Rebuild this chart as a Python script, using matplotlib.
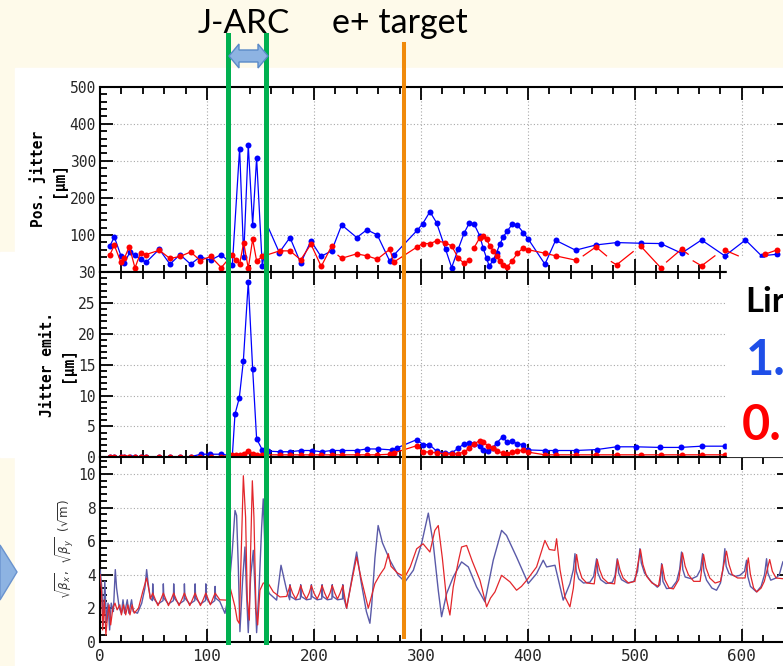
import numpy as np
import matplotlib.pyplot as plt
import matplotlib.transforms as mtransforms
from matplotlib.lines import Line2D
from matplotlib.patches import Polygon, Rectangle
from matplotlib.ticker import FixedLocator, MultipleLocator

W, H = 783, 666
CREAM = "#FEFAEA"
MONO = "DejaVu Sans Mono"

# --- position jitter [um] ---
blue1_x = [9.3, 13.4, 19.6, 22.7, 28.0, 32.7, 38.0, 43.0, 55.4, 65.4, 74.8, 84.7, 93.7,
           103.4, 113.4, 123.7, 130.5, 134.3, 138.6, 142.7, 146.4, 151.7, 157.3, 167.6,
           177.6, 187.6, 197.2, 206.5, 216.5, 225.9, 240.0, 249.5, 259.2, 271.0, 274.8,
           296.5, 301.6, 308.4, 314.6, 323.0, 328.7, 335.0, 340.5, 345.2, 349.8, 355.1,
           358.2, 361.4, 363.8, 367.6, 370.7, 373.8, 376.9, 380.7, 385.3, 390.0, 395.8,
           400.3, 415.9, 425.9, 444.6, 463.6, 482.9, 505.3, 524.0, 543.6, 562.3, 584.1,
           603.4, 618.4, 633.0]
blue1_y = [70.6, 94.5, 43.6, 24, 54, 45, 34.6, 25.8, 61.5, 21, 47, 21, 41,
           32, 47, 18.5, 333, 41.8, 343, 126.7, 307.6, 15, 120, 52.6,
           93, 24, 84, 42, 57, 127, 93, 114, 100, 28.5, 46,
           112.5, 130, 162.7, 133, 61.5, 12, 63, 106, 132, 128.6, 97,
           64, 37, 16, 32, 52.5, 75, 94.5, 110.7, 128.6, 127, 106,
           89, 21, 85.6, 58.8, 73, 79.4, 77.6, 76.8, 50.7, 86.4, 43.5,
           86.4, 43.5, 48]
blue1_dot = [1] * 22 + [0] + [1] * 48

red1_x = [9.3, 13.4, 19.6, 22.7, 27.4, 32.7, 38.0, 43.0, 55.4, 65.4, 74.8, 84.7, 93.7,
          103.4, 113.4, 123.7, 126.8, 130.5, 134.3, 138.6, 142.7, 146.4, 151.7, 167.9,
          177.6, 187.6, 197.2, 206.8, 216.5, np.nan, 222.5, 225.9, 240.0, 249.4, 259.2,
          271.0, 274.5, 296.5, 301.6, 308.4, 314.6, 322.4, 328.7, 335.0, 340.5, 345.2,
          np.nan, 349.8, 355.1, 358.2, 361.4, 364.5, 367.6, 370.7, 373.8, 376.9, 380.7,
          385.3, 390.0, 395.6, 400.3, 415.9, 425.9, 444.6, np.nan, 451.7, 463.6, 473.5,
          np.nan, 478.0, 482.9, 498.4, np.nan, 505.3, 524.0, np.nan, 529.6, 543.6, 549.8,
          np.nan, 554.5, 562.3, 574.8, np.nan, 584.1, 596.6, np.nan, 621.5, 633.0]
red1_y = [47, 72, 25.8, 36.5, 68.7, 11, 52.5, 47, 58.8, 36.5, 42, 54, 31,
          42, 12, 47, 33, 21, 79.5, 10, 88.3, 30, 42, 57,
          57, 33, 75, 15, 70, np.nan, 45, 37, 49, 43.6, 34.6,
          61.5, 26.5, 67.7, 76.8, 76.8, 83.8, 79.5, 70.3, 37.3, 23, 32,
          np.nan, 66, 93, 97, 88, 70.3, 57, 43.6, 30, 19.3, 14,
          30, 50, 65, 60, 50.7, 43.6, 32, np.nan, 43.6, 67.7, 43.6,
          np.nan, 28, 19.3, 55, np.nan, 70.3, 12, np.nan, 27, 61.5, 48,
          np.nan, 30, 16.6, 43.6, np.nan, 59, 43.6, np.nan, 48, 59.6]
red1_dot = [1] * 29 + [0, 0] + [1] * 15 + [0] + [1] * 17 + [0, 0, 1, 0, 0, 0, 1, 0, 0,
            1, 1, 0, 0, 1, 0, 0, 0, 1, 0, 0, 1, 0, 0, 1, 1]

# --- jitter emittance [um] ---
blue2_x = [9.3, 13.4, 19.6, 22.7, 28.0, 32.7, 38.0, 43.0, 55.4, 65.4, 74.8, 84.7, 94.4,
           102.8, 113.0, 123.7, 126.2, 130.2, 134.0, 138.6, 142.7, 146.4, 151.7, 157.3,
           168.2, 177.6, 188.0, 197.8, 207.2, 216.5, 225.9, 240.0, 249.2, 260.0, 272.6,
           277.3, 296.0, 302.2, 308.0, 314.6, 322.4, 328.7, 335.0, 340.5, 345.2, 349.8,
           355.1, 358.2, 362.9, 367.0, 370.7, 376.3, 380.7, 385.3, 390.0, 395.0, 399.7,
           415.9, 425.2, 444.6, 464.2, 482.9, 500.6, 523.4, 542.7, 562.3, 584.1]
blue2_y = [0.1, 0.1, 0.1, 0.1, 0.1, 0.1, 0.1, 0.1, 0.1, 0.1, 0.1, 0.1, 0.5,
           0.5, 0.5, 0.25, 7.0, 9.6, 15.6, 28.4, 14.3, 3.0, 1.2, 1.0,
           0.9, 0.9, 1.1, 1.1, 0.9, 1.1, 1.1, 1.1, 1.35, 1.35, 1.2,
           1.5, 2.85, 2.05, 2.05, 1.0, 0.7, 0.7, 1.5, 2.2, 2.3, 2.2,
           1.8, 1.2, 1.0, 1.5, 2.3, 3.3, 2.4, 2.6, 2.2, 2.05, 1.2,
           1.1, 1.1, 1.1, 1.25, 1.7, 1.7, 1.6, 1.6, 1.8, 1.8]

red2_x = [9.3, 13.4, 19.6, 22.7, 27.4, 32.7, 38.0, 43.0, 55.4, 65.4, 74.8, 84.7, 93.7,
          103.4, 113.4, 123.7, 126.8, 130.5, 134.3, 138.6, 142.7, 146.4, 151.7, 167.9,
          177.6, 187.6, 197.2, 206.8, 216.5, 225.9, 240.0, 249.4, 259.2, 271.0, 274.5,
          296.5, 301.6, 308.4, 314.6, 322.4, 328.7, 335.0, 340.5, 345.2, 349.8, 355.1,
          358.2, 362.9, 367.0, 370.7, 376.3, 380.7, 385.3, 390.0, 395.0, 399.7, 415.9,
          425.9, 444.6, 463.6, 482.9, 505.3, 524.0, 543.6, 562.3, 584.1]
red2_y = [0.1, 0.1, 0.1, 0.1, 0.1, 0.1, 0.1, 0.1, 0.1, 0.1, 0.1, 0.1, 0.1,
          0.1, 0.1, 0.4, 0.4, 0.4, 0.6, 1.1, 0.6, 0.4, 0.4, 0.4,
          0.4, 0.4, 0.4, 0.4, 0.4, 0.4, 0.4, 0.4, 0.4, 0.5, 0.7,
          1.9, 0.9, 0.85, 0.7, 0.6, 0.5, 0.6, 0.85, 1.5, 2.2, 2.7,
          2.5, 1.8, 1.5, 1.0, 0.7, 0.55, 0.85, 1.0, 1.2, 0.85, 0.4,
          0.4, 0.4, 0.4, 0.4, 0.4, 0.4, 0.4, 0.4, 0.4]

# --- sqrt(beta) [sqrt(m)] ---
betax_s = [0, 1.5, 3, 4.5, 6, 7.5, 9, 10.5, 12.5, 14.3, 15.5, 18, 20, 21.5, 23, 25.5, 27,
           29.5, 31, 35, 39, 42, 43.6, 45, 47,
           49.0, 49.3, 49.8, 54.2, 58.9, 59.2, 59.7, 64.0, 68.6, 68.9, 69.4, 73.9,
           78.6, 78.9, 79.4, 83.9, 88.6, 88.9, 89.4, 93.9, 98.6, 98.9, 99.4, 103.2,
           107.3, 107.6, 108.1, 112, 116.8,
           119.9, 123.7, 126.2, 127.7, 129.3, 130.8, 133.3, 135.5, 137.0, 138.6, 140.8,
           143.3, 144.9, 146.4, 148.9, 151.1, 152.6, 154.2, 155.8, 158.3, 165.1, 169.2,
           174.5, 177.3,
           177.6, 178.1, 183, 187.3, 187.6, 188.1, 193, 197.3, 197.6, 198.1, 203, 207.3,
           207.6, 208.1, 212.5, 216.8, 217.1, 217.6, 222, 226.7, 227, 227.5, 230.5,
           235, 239.9, 244, 249, 252.3, 254, 257, 260, 264, 271, 278.8, 285.1, 292.9,
           300.6, 306.9, 311.5, 316.2, 319.3, 324, 330.2, 338, 344.3, 352, 359.8, 367.6,
           375.4, 380, 389.4, 400.3, 408.1, 414.3, 417.5, 425.3, 433,
           439.3, 442.5, 444, 445.2, 447.5, 452, 458, 461.5, 464.2, 465.4, 468, 473, 479,
           481.5, 483.5, 484.8, 487.5, 493, 499, 502.5, 504.7, 506, 509, 515, 521, 523.4,
           525, 526.2, 529.6, 534.3, 539, 541.8, 543.6, 544.8, 547, 553, 558, 561.3,
           563.3, 564.5, 567, 572, 576.3, 580, 582.3, 584.1, 585.3, 588, 594, 598.1,
           602.5, 604.4, 605.5, 608, 613.7, 618, 621.2, 623.1, 624.3, 627, 632, 635,
           638.3, 645]
betax = [4.3, 3.4, 1.0, 3.6, 1.2, 2.3, 0.7, 2.3, 1.8, 4.3, 3.2, 2.0, 1.7, 2.5, 1.7, 2.5, 1.7,
         2.5, 1.8, 1.7, 2.3, 3.2, 4.3, 3.5, 2.6,
         2.45, 3.45, 2.6, 2.25, 2.45, 3.45, 2.6, 2.25, 2.45, 3.45, 2.6, 2.25,
         2.45, 3.45, 2.6, 2.25, 2.45, 3.45, 2.6, 2.25, 2.45, 3.45, 2.6, 2.25,
         2.45, 3.3, 2.6, 2.4, 1.69,
         2.68, 5.45, 7.83, 7.53, 4.46, 0.6, 3.67, 5.65, 2.87, 0.54, 3.86,
         5.45, 3.07, 0.54, 3.47, 6.84, 8.52, 5.45, 3.27, 2.87, 2.48, 4.56,
         3.07, 2.5,
         3.4, 2.7, 2.5, 2.55, 3.4, 2.7, 2.5, 2.55, 3.4, 2.7, 2.5, 2.55,
         3.4, 2.7, 2.5, 2.55, 3.4, 2.7, 2.5, 2.55, 3.4, 2.7, 2.0,
         3.6, 5.35, 3.6, 1.8, 1.1, 2.2, 5.0, 6.93, 5.9, 4.86, 3.96, 3.57, 4.26,
         5.85, 7.67, 5.85, 3.07, 1.49, 2.87, 3.86, 4.76, 4.46, 3.27, 2.38, 4.86,
         6.64, 6.34, 5.05, 3.47, 4.06, 4.86, 4.46, 4.56, 2.48,
         3.47, 4.3, 5.25, 4.2, 3.75, 3.5, 3.55, 3.9, 4.95, 4.1, 3.7, 3.47, 3.55,
         3.95, 4.95, 4.1, 3.7, 3.5, 3.6, 4.2, 5.55, 4.7, 4.1, 3.6, 3.25, 3.4,
         4.66, 3.6, 3.17, 3.2, 3.6, 4.3, 5.35, 4.3, 3.86, 3.75, 3.9, 4.3,
         5.25, 4.2, 3.67, 3.2, 3.07, 3.5, 4.3, 5.55, 4.5, 4.06, 3.9, 3.96,
         4.2, 4.86, 3.9, 3.3, 2.97, 3.3, 4.0, 4.95, 4.1, 3.67, 3.8, 4.0,
         4.76, 5.2]

betay_s = [0, 1.5, 2.5, 4, 5.5, 7, 8.5, 10, 12, 14, 16, 18.5, 20, 22, 24, 26, 28, 30, 32,
           36, 40, 43.6, 46,
           47.1, 49.3, 51.5, 54.2, 57.0, 59.2, 61.4, 64.0, 66.7, 68.9, 71.1, 73.9,
           76.7, 78.9, 81.1, 83.9, 86.7, 88.9, 91.1, 93.9, 96.7, 98.9, 101.1, 103.2,
           105.4, 107.6, 112, 118.4,
           121, 126.2, 128.3, 130.2, 132.1, 134.0, 136.1, 137.7, 139.6, 140.8, 142.4,
           143.9, 145.8, 147.4, 149.5, 152.6, 157.3, 162, 168.2, 174.5,
           177.6, 180, 183, 185.5, 187.6, 190, 193, 195.5, 197.6, 200, 203, 205.5,
           207.6, 210, 212.5, 215, 217.1, 219.5, 222, 224.5, 227, 229, 230.5,
           235, 239.9, 244, 250.8, 257, 261.7, 266, 269.5, 272, 278, 285, 290, 296,
           302, 308.4, 313, 316.2, 320, 324, 327.1, 330.2, 335, 338, 342.7, 348,
           355.2, 361.4, 365, 369.2, 375.4, 383.2, 389.4, 394, 398.8, 408.1, 415.9,
           420, 425.2, 426.8, 430, 434.6,
           439.3, 442.5, 445.5, 447.5, 450.5, 455, 462, 464.8, 467, 470, 475, 481, 483.8,
           486, 489, 494, 500, 505.2, 507.5, 511, 516, 522, 525.5, 528, 532, 536, 541,
           544.5, 547, 550, 555, 561, 564.2, 566.5, 570, 575, 580, 585.6, 588, 591, 596,
           603, 606, 608, 611, 614, 618, 621, 626, 628.5, 632, 638, 645]
betay = [4.0, 3.0, 0.7, 2.5, 0.4, 1.5, 2.2, 1.0, 2.0, 2.3, 1.9, 2.2, 1.6, 2.2, 1.6, 2.2,
         1.6, 2.2, 1.7, 2.0, 3.0, 3.8, 3.0,
         2.55, 2.9, 2.55, 2.15, 2.55, 2.9, 2.55, 2.15, 2.55, 2.9, 2.55, 2.15,
         2.55, 2.9, 2.55, 2.15, 2.55, 2.9, 2.55, 2.15, 2.55, 2.9, 2.55, 2.2,
         2.55, 2.9, 2.5, 2.48,
         3.4, 2.08, 1.29, 1.09, 5.45, 9.9, 7.43, 2.48, 1.29, 5.45, 9.6,
         7.43, 1.89, 1.0, 3.07, 3.5, 3.47, 2.97, 2.67, 2.7,
         3.35, 2.9, 2.55, 2.9, 3.35, 2.9, 2.55, 2.9, 3.35, 2.9, 2.55, 2.9,
         3.35, 2.9, 2.55, 2.9, 3.35, 2.9, 2.55, 2.9, 3.35, 2.6, 2.0,
         3.5, 5.05, 3.8, 2.0, 3.47, 4.0, 4.4, 5.25, 4.5, 4.1, 3.86, 4.46, 5.54,
         5.84, 5.35, 6.64, 6.93, 5.0, 2.5, 1.59, 3.27, 4.8, 5.65, 5.74, 4.8,
         3.66, 2.08, 2.6, 2.97, 3.96, 3.57, 3.07, 3.3, 3.66, 4.46, 6.04,
         5.5, 5.45, 6.14, 4.3, 2.67,
         2.08, 3.2, 5.2, 4.4, 3.8, 3.5, 3.45, 4.9, 4.3, 3.8, 3.5, 3.45, 4.9,
         4.3, 3.8, 3.5, 3.6, 5.5, 4.6, 3.9, 3.5, 3.3, 4.6, 3.7, 3.2, 3.15, 3.7,
         5.3, 4.5, 4.0, 3.6, 3.6, 5.2, 4.4, 3.8, 3.5, 3.6, 5.4, 4.6, 4.0, 3.8,
         3.8, 5.0, 4.0, 3.2, 2.97, 3.2, 3.6, 4.9, 4.2, 3.8, 3.76, 3.8]

JARC = [120, 155]
TARGET = 284.4


def px(x, y):
    """pixel (from top-left) -> figure fraction"""
    return x / W, 1 - y / H


def style_axis(ax):
    ax.set_xlim(0, 645)
    ax.xaxis.set_major_locator(MultipleLocator(100))
    ax.xaxis.set_minor_locator(MultipleLocator(20))
    ax.tick_params(which="both", direction="in", top=True, right=True,
                   width=1.3, color="black", labelcolor="#262626",
                   labelfontfamily=MONO)
    ax.tick_params(which="major", length=9.4)
    ax.tick_params(which="minor", length=4.7)
    ax.tick_params(axis="x", pad=5, labelsize=11.5)
    ax.tick_params(axis="y", pad=3, labelsize=10.5)
    ax.grid(True, which="major", linestyle=(0, (1, 2)), color="#A8A8A8", linewidth=0.8)
    for s in ax.spines.values():
        s.set_linewidth(1.5)


def marked_line(ax, x, y, dots, color):
    idx = [i for i, d in enumerate(dots) if d]
    ax.plot(x, y, color=color, lw=0.9, marker="o", ms=4.3, markevery=idx,
            markeredgewidth=0, zorder=3)


def side_label(ax, text, xpix, **kw):
    # rotated label centred on the panel at a given pixel column
    ax.text((xpix - 100) / 690, 0.5, text, transform=ax.transAxes, rotation=90,
            ha="center", va="center", **kw)


def main():
    fig = plt.figure(figsize=(W / 100, H / 100), dpi=100, facecolor=CREAM)

    # white picture area pasted on the slide
    fig.add_artist(Rectangle(px(15, 666), (W - 15) / W, (666 - 68) / H,
                             transform=fig.transFigure, color="white", zorder=-2))
    fig.add_artist(Rectangle(px(0, 457), 15 / W, (457 - 252) / H,
                             transform=fig.transFigure, color="white", zorder=-2))

    left, width = 100 / W, 690 / W
    edges = [86.7, 272.0, 457.3, 641.7]
    axes = []
    for i in range(3):
        b = 1 - edges[i + 1] / H
        h = (edges[i + 1] - edges[i]) / H
        axes.append(fig.add_axes([left, b, width, h]))
    ax1, ax2, ax3 = axes

    for ax in axes:
        style_axis(ax)
    ax1.tick_params(labelbottom=False)
    ax2.tick_params(labelbottom=False)

    # panel 1
    marked_line(ax1, blue1_x, blue1_y, blue1_dot, "#0000FF")
    marked_line(ax1, red1_x, red1_y, red1_dot, "#FF0000")
    ax1.set_ylim(0, 500)
    ax1.yaxis.set_major_locator(FixedLocator([100, 200, 300, 400, 500]))
    ax1.yaxis.set_minor_locator(MultipleLocator(20))
    side_label(ax1, "Pos. jitter\n[\u03bcm]", 47.5, fontfamily=MONO, fontweight="bold",
               fontsize=10.5, linespacing=1.45)

    # panel 2
    marked_line(ax2, blue2_x, blue2_y, [1] * len(blue2_x), "#0000FF")
    marked_line(ax2, red2_x, red2_y, [1] * len(red2_x), "#FF0000")
    ax2.set_ylim(0, 30)
    ax2.yaxis.set_major_locator(MultipleLocator(5))
    ax2.yaxis.set_minor_locator(MultipleLocator(1))
    side_label(ax2, "Jitter emit.\n[\u03bcm]", 57.5, fontfamily=MONO, fontweight="bold",
               fontsize=10.5, linespacing=1.45)

    # panel 3
    ax3.plot(betax_s, betax, color="#5A5AA8", lw=1.0, zorder=3)
    ax3.plot(betay_s, betay, color="#E3262B", lw=0.9, zorder=3)
    ax3.set_ylim(0, 11)
    ax3.yaxis.set_major_locator(MultipleLocator(2))
    ax3.yaxis.set_minor_locator(MultipleLocator(0.4))
    side_label(ax3, r"$\sqrt{\beta_x}$,  $\sqrt{\beta_y}$  ($\sqrt{\rm m}$)", 65,
               fontsize=8.5, color="#333333")

    # J-ARC and positron target markers
    trans = mtransforms.blended_transform_factory(ax3.transData, fig.transFigure)
    for xg in JARC:
        fig.add_artist(Line2D([xg, xg], [1 - 35 / H, 1 - 641.7 / H], transform=trans,
                              color="#00B050", lw=3.6, zorder=4))
    fig.add_artist(Line2D([TARGET, TARGET], [1 - 44 / H, 1 - 637 / H], transform=trans,
                          color="#F08A0B", lw=2.9, zorder=4))

    arrow = [(229, 56), (239, 44), (239, 50), (258, 50), (258, 44), (268, 56),
             (258, 68), (258, 62), (239, 62), (239, 68)]
    fig.add_artist(Polygon([px(*p) for p in arrow], closed=True, transform=fig.transFigure,
                           facecolor="#8DB3E2", edgecolor="#5A8AC8", lw=1.0, zorder=5))
    chevron = [(0, 545), (17, 572), (0, 600)]
    fig.add_artist(Polygon([px(*p) for p in chevron], closed=True, transform=fig.transFigure,
                           facecolor="#8DB3E2", edgecolor="#6A93CF", lw=1.0, zorder=5))

    fig.text(*px(244, 33), "J-ARC", fontfamily="Lato", fontsize=24, ha="center",
             va="baseline")
    fig.text(*px(400, 33), "e+ target", fontfamily="Lato", fontsize=24.5, ha="center",
             va="baseline")

    # legend box pasted over the right side (its text runs past the edge)
    fig.add_artist(Rectangle(px(727, 455.5), (W - 727) / W, (455.5 - 258) / H,
                             transform=fig.transFigure, color="white", zorder=6))
    fig.text(*px(745, 312), "Lir", fontfamily="Lato", fontweight="bold", fontsize=25,
             color="black", va="baseline", zorder=7)
    fig.text(*px(746, 375), "1.", fontfamily="Lato", fontweight="bold", fontsize=35,
             color="#1F4FE8", va="baseline", zorder=7)
    fig.text(*px(742, 440), "0.", fontfamily="Lato", fontweight="bold", fontsize=35,
             color="#FF0000", va="baseline", zorder=7)

    fig.savefig("out.png", dpi=100, facecolor=CREAM)


if __name__ == "__main__":
    main()
